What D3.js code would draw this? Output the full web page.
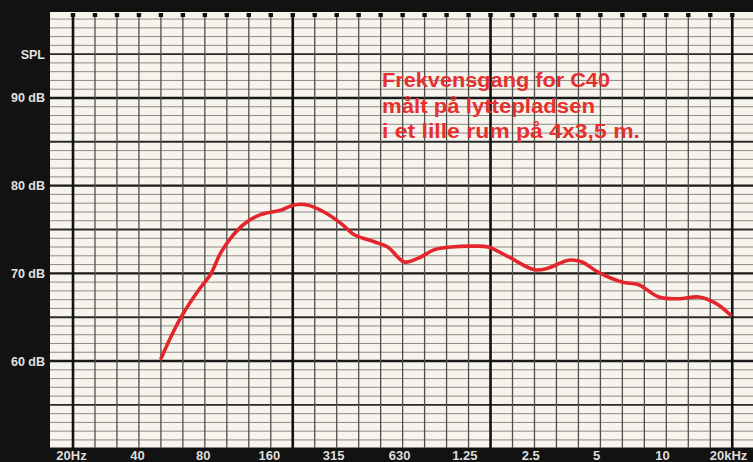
<!DOCTYPE html>
<html>
<head>
<meta charset="utf-8">
<script src="https://cdn.jsdelivr.net/npm/d3@7"></script>
<style>
  html, body { margin: 0; padding: 0; background: #121212; }
  svg { display: block; }
</style>
</head>
<body>
<svg id="chart" width="753" height="462"></svg>
<script>
// ---- data ----
const freqs = [50.5, 57.6, 64, 75, 85, 94.3, 104.8, 120.6, 143.8, 177.6, 204.4, 235, 280, 334.6, 385, 475, 547, 652, 751, 895, 1067, 1317, 1572, 1941, 2571, 2960, 3658, 4214, 5020, 6419, 7653, 9452, 11680, 14400, 17180, 20100];
const spl   = [60.3, 63.4, 65.5, 68.1, 69.9, 72.3, 74.0, 75.6, 76.7, 77.2, 77.8, 77.8, 77.0, 75.7, 74.4, 73.6, 73.0, 71.3, 71.7, 72.7, 73.0, 73.1, 73.0, 71.9, 70.4, 70.6, 71.5, 71.3, 70.1, 69.0, 68.7, 67.3, 67.1, 67.3, 66.6, 65.25];
const xTickFreqs  = [20, 40, 80, 160, 315, 630, 1250, 2500, 5000, 10000, 20000];
const xTickLabels = ["20Hz", "40", "80", "160", "315", "630", "1.25", "2.5", "5", "10", "20kHz"];
const yTickValues = [95, 90, 80, 70, 60];
const yTickLabels = ["SPL", "90 dB", "80 dB", "70 dB", "60 dB"];
const heavyFreqs  = [20, 200, 1600, 20000];
const noteLines   = ["Frekvensgang for C40", "målt på lyttepladsen", "i et lille rum på 4x3,5 m."];

// ---- layout ----
const W = 753, H = 462;
const paper = { x0: 50, x1: 753, y0: 12, y1: 448 };
const svg = d3.select("#chart");

const x = d3.scaleLog().domain([20, 20000]).range([73, 730]);
const y = d3.scaleLinear().domain([50, 100]).range([448.7, 10.3]);

svg.append("rect").attr("width", W).attr("height", H).attr("fill", "#121212");
svg.append("clipPath").attr("id", "pclip").append("rect")
  .attr("x", paper.x0).attr("y", paper.y0)
  .attr("width", paper.x1 - paper.x0).attr("height", paper.y1 - paper.y0);
svg.append("rect")
  .attr("x", paper.x0).attr("y", paper.y0)
  .attr("width", paper.x1 - paper.x0).attr("height", paper.y1 - paper.y0)
  .attr("fill", "#f6f4ec");

const g = svg.append("g").attr("clip-path", "url(#pclip)");

// horizontal grid: 1 dB lines
const dbLines = d3.range(50, 101);
g.selectAll("line.h").data(dbLines).enter().append("line")
  .attr("x1", paper.x0).attr("x2", paper.x1)
  .attr("y1", d => y(d)).attr("y2", d => y(d))
  .attr("stroke", d => d % 10 === 0 ? "#1a1a1a" : d % 5 === 0 ? "#2a2a2a" : "#8e8c86")
  .attr("stroke-width", d => d % 10 === 0 ? 2.4 : d % 5 === 0 ? 1.9 : 1);

// vertical grid: third-octave lines
const thirdOct = d3.range(0, 31).map(i => 20 * Math.pow(2, i / 3));
const isHeavy = f => heavyFreqs.some(h => Math.abs(Math.log(f / h)) < 0.05);
g.selectAll("line.v").data(thirdOct).enter().append("line")
  .attr("x1", d => x(d)).attr("x2", d => x(d))
  .attr("y1", paper.y0 + 3).attr("y2", paper.y1)
  .attr("stroke", d => isHeavy(d) ? "#111" : "#4f4f4c")
  .attr("stroke-width", d => isHeavy(d) ? 2.6 : 1.3);

// top markers
g.selectAll("rect.m").data(thirdOct).enter().append("rect")
  .attr("x", d => x(d) - 2.2).attr("y", 13)
  .attr("width", 4.4).attr("height", 4)
  .attr("fill", "#111");

// curve
const line = d3.line()
  .x((d, i) => x(freqs[i]))
  .y((d, i) => y(spl[i]))
  .curve(d3.curveCatmullRom.alpha(0.5));
g.append("path").datum(spl)
  .attr("d", line)
  .attr("fill", "none")
  .attr("stroke", "#e4262c")
  .attr("stroke-width", 3.6)
  .attr("stroke-linecap", "round")
  .attr("stroke-linejoin", "round");

// annotation
const note = svg.append("g");
noteLines.forEach((t, i) => {
  const txt = note.append("text")
    .attr("x", 382).attr("y", 87 + i * 25.5)
    .attr("font-family", "Liberation Sans, Arial, sans-serif")
    .attr("font-weight", "bold")
    .attr("font-size", 19.5)
    .attr("fill", "#e6302f")
    .text(t);
  const target = [228, 213, 258][i];
  txt.attr("textLength", target).attr("lengthAdjust", "spacingAndGlyphs");
});

// y labels
svg.selectAll("text.yl").data(yTickValues).enter().append("text")
  .attr("x", 45).attr("y", d => y(d))
  .attr("dy", "0.36em")
  .attr("text-anchor", "end")
  .attr("font-family", "Liberation Sans, Arial, sans-serif")
  .attr("font-weight", "bold")
  .attr("font-size", 12.5)
  .attr("fill", "#e2e2e0")
  .text((d, i) => yTickLabels[i]);

// x labels
svg.selectAll("text.xl").data(xTickFreqs).enter().append("text")
  .attr("x", d => x(d) - 1.5).attr("y", 460)
  .attr("text-anchor", "middle")
  .attr("font-family", "Liberation Sans, Arial, sans-serif")
  .attr("font-weight", "bold")
  .attr("font-size", 13)
  .attr("fill", "#deded9")
  .text((d, i) => xTickLabels[i]);
</script>
</body>
</html>
